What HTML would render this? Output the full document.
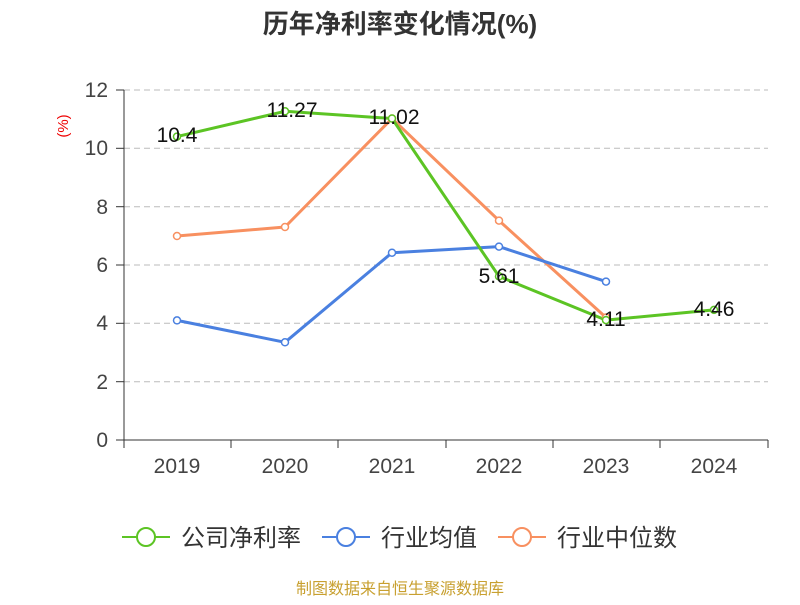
<!DOCTYPE html>
<html><head><meta charset="utf-8"><style>body{margin:0;background:#fff}</style></head><body>
<svg width="800" height="600" xmlns="http://www.w3.org/2000/svg" font-family="Liberation Sans, Noto Sans CJK SC, sans-serif">
<text x="400" y="33" text-anchor="middle" font-size="26" font-weight="bold" fill="#333">历年净利率变化情况(%)</text>
<text x="68" y="126" font-size="15" fill="#e00" transform="rotate(-90 68 126)" text-anchor="middle">(%)</text>
<g stroke="#bbb" stroke-dasharray="6,4" stroke-width="1">
<line x1="124" x2="768" y1="90" y2="90"/><line x1="124" x2="768" y1="148.3" y2="148.3"/><line x1="124" x2="768" y1="206.7" y2="206.7"/><line x1="124" x2="768" y1="265" y2="265"/><line x1="124" x2="768" y1="323.3" y2="323.3"/><line x1="124" x2="768" y1="381.7" y2="381.7"/>
</g>
<g stroke="#333" stroke-width="1">
<line x1="124" y1="90" x2="124" y2="440"/><line x1="124" y1="440" x2="768" y2="440"/>
<line x1="116" x2="124" y1="90" y2="90"/><line x1="116" x2="124" y1="148.3" y2="148.3"/><line x1="116" x2="124" y1="206.7" y2="206.7"/><line x1="116" x2="124" y1="265" y2="265"/><line x1="116" x2="124" y1="323.3" y2="323.3"/><line x1="116" x2="124" y1="381.7" y2="381.7"/><line x1="116" x2="124" y1="440" y2="440"/>
<line x1="124" x2="124" y1="440" y2="448"/><line x1="231" x2="231" y1="440" y2="448"/><line x1="338" x2="338" y1="440" y2="448"/><line x1="446" x2="446" y1="440" y2="448"/><line x1="553" x2="553" y1="440" y2="448"/><line x1="660" x2="660" y1="440" y2="448"/><line x1="768" x2="768" y1="440" y2="448"/>
</g>
<g font-size="21" fill="#444" text-anchor="end">
<text x="108" y="97">12</text><text x="108" y="155">10</text><text x="108" y="214">8</text><text x="108" y="272">6</text><text x="108" y="330">4</text><text x="108" y="389">2</text><text x="108" y="447">0</text>
</g>
<g font-size="21" fill="#444" text-anchor="middle">
<text x="177" y="473">2019</text><text x="285" y="473">2020</text><text x="392" y="473">2021</text><text x="499" y="473">2022</text><text x="606" y="473">2023</text><text x="714" y="473">2024</text>
</g>
<g fill="none" stroke-width="3" stroke-linejoin="round">
<polyline stroke="#f89060" points="177,236 285,227 392,118.5 499,220.6 606,317.5"/>
<polyline stroke="#4a80e0" points="177,320.4 285,342.3 392,252.7 499,246.6 606,281.6"/>
<polyline stroke="#5cc424" points="177,136.6 285,111.3 392,118.5 499,276.4 606,320.1 714,309.9"/>
</g>
<g fill="#fff" stroke-width="1.5">
<g stroke="#f89060"><circle cx="177" cy="236" r="3.5"/><circle cx="285" cy="227" r="3.5"/><circle cx="392" cy="118.5" r="3.5"/><circle cx="499" cy="220.6" r="3.5"/><circle cx="606" cy="317.5" r="3.5"/></g>
<g stroke="#4a80e0"><circle cx="177" cy="320.4" r="3.5"/><circle cx="285" cy="342.3" r="3.5"/><circle cx="392" cy="252.7" r="3.5"/><circle cx="499" cy="246.6" r="3.5"/><circle cx="606" cy="281.6" r="3.5"/></g>
<g stroke="#5cc424"><circle cx="177" cy="136.6" r="3.5"/><circle cx="285" cy="111.3" r="3.5"/><circle cx="392" cy="118.5" r="3.5"/><circle cx="499" cy="276.4" r="3.5"/><circle cx="606" cy="320.1" r="3.5"/><circle cx="714" cy="309.9" r="3.5"/></g>
</g>
<g font-size="21" fill="#111" text-anchor="middle">
<text x="177" y="142">10.4</text><text x="292" y="117">11.27</text><text x="394" y="124">11.02</text><text x="499" y="283">5.61</text><text x="606" y="326">4.11</text><text x="714" y="316">4.46</text>
</g>
<g stroke-width="2" fill="#fff">
<line x1="122" x2="170" y1="537" y2="537" stroke="#5cc424"/><circle cx="146" cy="537" r="9" stroke="#5cc424"/>
<line x1="322" x2="370" y1="537" y2="537" stroke="#4a80e0"/><circle cx="346" cy="537" r="9" stroke="#4a80e0"/>
<line x1="498" x2="546" y1="537" y2="537" stroke="#f89060"/><circle cx="522" cy="537" r="9" stroke="#f89060"/>
</g>
<g font-size="24" fill="#333">
<text x="181" y="546">公司净利率</text><text x="381" y="546">行业均值</text><text x="557" y="546">行业中位数</text>
</g>
<text x="400" y="594" text-anchor="middle" font-size="16" fill="#c8a030">制图数据来自恒生聚源数据库</text>
</svg>
</body></html>
